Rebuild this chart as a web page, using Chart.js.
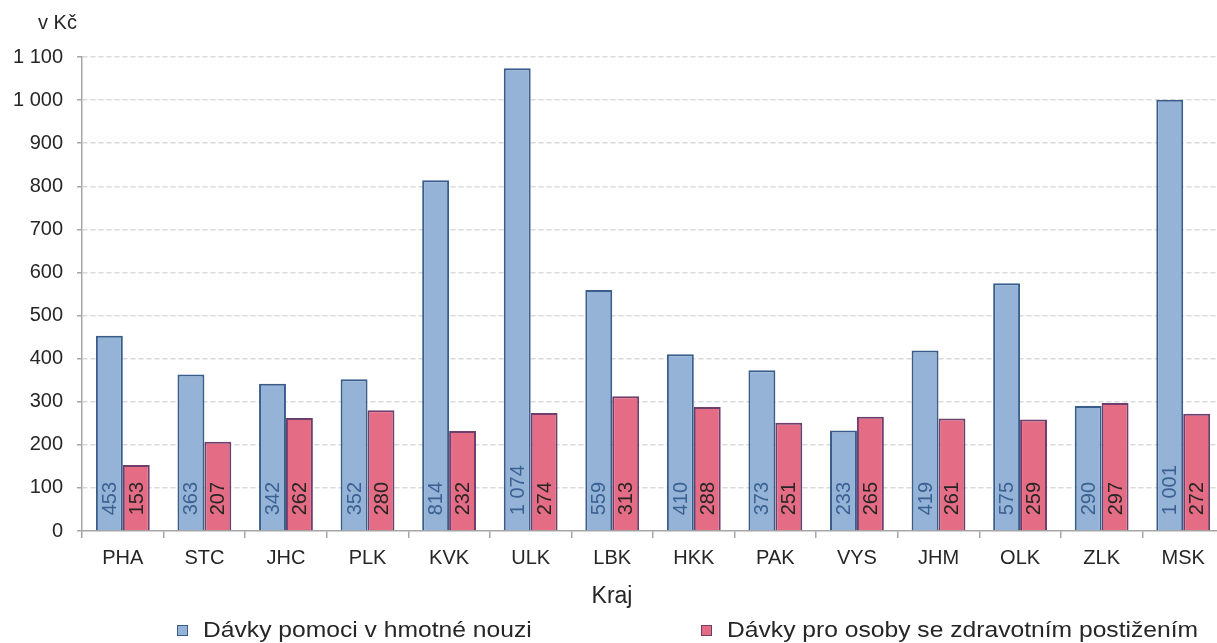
<!DOCTYPE html>
<html>
<head>
<meta charset="utf-8">
<script src="https://cdn.jsdelivr.net/npm/chart.js@4"></script>
<style>
	html, body { margin: 0; padding: 0; background: #fff; overflow: hidden; }
	#wrap { position: relative; width: 1217px; height: 643px; overflow: hidden; }
	#plot { position: absolute; left: -13px; top: 0; width: 1239px; height: 643px; }
	.legend-item { position: absolute; top: 617px; height: 26px; display: flex; align-items: center; font: 22px "Liberation Sans", Arial, sans-serif; color: #262626; white-space: nowrap; }
	.legend-box { width: 9px; height: 9px; border: 1px solid; margin-right: 15px; }
	.legend-text { display: inline-block; transform: scaleX(1.12); transform-origin: left center; }
</style>
</head>
<body>
<div id="wrap">
	<div id="plot"><canvas id="chart"></canvas></div>
	<div class="legend-item" style="left:177px"><span class="legend-box" style="background:#95b3d7;border-color:#385d8a"></span><span class="legend-text">Dávky pomoci v hmotné nouzi</span></div>
	<div class="legend-item" style="left:701px"><span class="legend-box" style="background:#e46c84;border-color:#6e3f6c"></span><span class="legend-text">Dávky pro osoby se zdravotním postižením</span></div>
</div>
<script>
const regions = ['PHA', 'STC', 'JHC', 'PLK', 'KVK', 'ULK', 'LBK', 'HKK', 'PAK', 'VYS', 'JHM', 'OLK', 'ZLK', 'MSK'];
const hmotnaNouze = [453, 363, 342, 352, 814, 1074, 559, 410, 373, 233, 419, 575, 290, 1001];
const zdravotniPostizeni = [153, 207, 262, 280, 232, 274, 313, 288, 251, 265, 261, 259, 297, 272];
const seriesNames = ['Dávky pomoci v hmotné nouzi', 'Dávky pro osoby se zdravotním postižením'];
const yMax = 1100;
const yStep = 100;

const FONT = '"Liberation Sans", Arial, sans-serif';
const TEXT = '#262626';
const AXIS = '#a6a6a6';
const labelColors = ['#3a6193', '#262626'];

// 1074 -> "1 074"
const fmt = (v) => String(v).replace(/\B(?=(\d{3})+(?!\d))/g, ' ');

const barLabels = {
	id: 'barLabels',
	afterDatasetsDraw(chart) {
		const ctx = chart.ctx;
		chart.data.datasets.forEach((ds, i) => {
			const meta = chart.getDatasetMeta(i);
			meta.data.forEach((bar, j) => {
				ctx.save();
				ctx.translate(bar.x, bar.base - 15);
				ctx.rotate(-Math.PI / 2);
				ctx.font = `20px ${FONT}`;
				ctx.fillStyle = labelColors[i];
				ctx.textAlign = 'left';
				ctx.textBaseline = 'middle';
				ctx.fillText(fmt(ds.data[j]), 0, 1);
				ctx.restore();
			});
		});
	}
};

// unit label above the y axis, axis name under the x axis (centred on the page, not the plot)
const axisNames = {
	id: 'axisNames',
	afterDraw(chart) {
		const ctx = chart.ctx;
		ctx.save();
		ctx.fillStyle = TEXT;
		ctx.textBaseline = 'middle';
		ctx.font = `20px ${FONT}`;
		ctx.textAlign = 'left';
		ctx.fillText('v Kč', 51, 23);
		ctx.font = `23px ${FONT}`;
		ctx.textAlign = 'center';
		ctx.fillText('Kraj', 625, 597);
		ctx.restore();
	}
};

const ctx = document.getElementById('chart').getContext('2d');
new Chart(ctx, {
	type: 'bar',
	data: {
		labels: regions,
		datasets: [
			{
				label: seriesNames[0],
				data: hmotnaNouze,
				backgroundColor: '#95b3d7',
				borderColor: '#385d8a',
				borderWidth: 2,
			},
			{
				label: seriesNames[1],
				data: zdravotniPostizeni,
				backgroundColor: '#e46c84',
				borderColor: '#6e3f6c',
				borderWidth: 2,
			}
		]
	},
	options: {
		responsive: true,
		maintainAspectRatio: false,
		animation: false,
		categoryPercentage: 0.66,
		barPercentage: 1,
		layout: {
			padding: {top: 57, left: 12, right: 2, bottom: 65}
		},
		plugins: {
			legend: {display: false},
			tooltip: {enabled: false},
		},
		scales: {
			x: {
				grid: {
					drawOnChartArea: false,
					drawTicks: true,
					tickLength: 7,
					color: AXIS,
					lineWidth: 1.5,
				},
				border: {color: AXIS, width: 1.5},
				ticks: {
					color: TEXT,
					font: {family: FONT, size: 20},
					padding: 8,
				}
			},
			y: {
				min: 0,
				max: yMax,
				grid: {
					color: (c) => c.tick && c.tick.value === 0 ? 'rgba(0,0,0,0)' : '#d9d9d9',
					lineWidth: 1.5,
					tickColor: AXIS,
					tickLength: 5,
				},
				border: {color: AXIS, width: 1.5, dash: [5, 3]},
				ticks: {
					stepSize: yStep,
					color: TEXT,
					font: {family: FONT, size: 20},
					padding: 14,
					callback: (v) => fmt(v),
				}
			}
		}
	},
	plugins: [barLabels, axisNames]
});
</script>
</body>
</html>
